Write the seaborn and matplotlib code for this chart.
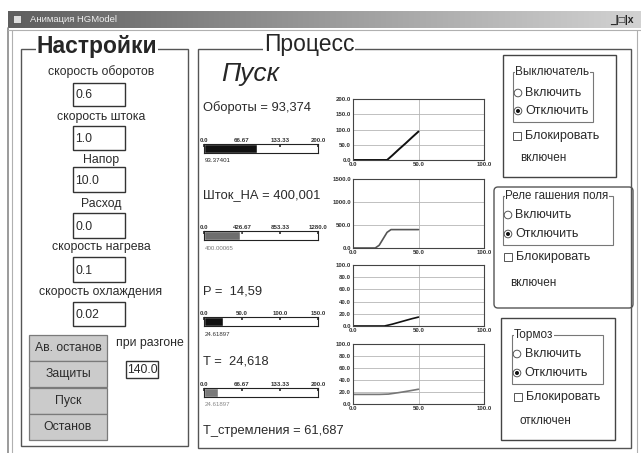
import numpy as np
import pandas as pd
import matplotlib
matplotlib.use("Agg")
import matplotlib.pyplot as plt
from matplotlib.patches import Rectangle, Circle, FancyBboxPatch
import seaborn as sns

sns.set_theme(style="white")
plt.rcParams["font.family"] = ["Liberation Sans", "DejaVu Sans"]

W, H = 641, 453

# тренды: время / значение
t_rpm = [0, 26, 30, 35, 40, 45, 50]
rpm = [0, 0, 15, 35, 54, 74, 93.4]
t_stroke = [0, 17, 20, 23, 26, 29, 50]
stroke = [0, 0, 60, 200, 340, 400, 400]
t_p = [0, 24, 30, 35, 40, 45, 50]
pressure = [0, 0, 3, 6, 9, 12, 14.6]
t_temp = [0, 10, 20, 27, 35, 42, 50]
temp = [16, 16, 16, 16.5, 19, 21.5, 24.6]

# индикаторы
bar_values = [93.37401, 400.00065, 24.61897, 24.61897]
bar_max = [200.0, 1280.0, 150.0, 200.0]
bar_ticks = [["0.0", "66.67", "133.33", "200.0"],
             ["0.0", "426.67", "853.33", "1280.0"],
             ["0.0", "50.0", "100.0", "150.0"],
             ["0.0", "66.67", "133.33", "200.0"]]
bar_texts = ["93.37401", "400.00065", "24.61897", "24.61897"]
readouts = ["Обороты = 93,374", "Шток_НА = 400,001", "P =  14,59", "T =  24,618"]

# настройки
param_names = ["скорость оборотов", "скорость штока", "Напор", "Расход",
               "скорость нагрева", "скорость охлаждения"]
param_values = ["0.6", "1.0", "10.0", "0.0", "0.1", "0.02"]
buttons = ["Ав. останов", "Защиты", "Пуск", "Останов"]

TXT = "#2a2a2a"


def px_axes(fig, x0, y0, x1, y1):
    return fig.add_axes([x0 / W, 1 - y1 / H, (x1 - x0) / W, (y1 - y0) / H])


def rect(ax, x0, y0, x1, y1, fc="none", ec="#555555", lw=0.9, z=1):
    ax.add_patch(Rectangle((x0, y0), x1 - x0, y1 - y0, facecolor=fc,
                           edgecolor=ec, lw=lw, zorder=z))


def group(ax, x0, y0, x1, y1, title, fs=8.5):
    rect(ax, x0, y0, x1, y1, ec="#777777", lw=0.8)
    ax.text(x0 + 2, y0, title, fontsize=fs, va="center", ha="left", color=TXT,
            bbox=dict(facecolor="white", edgecolor="none", pad=0.3), zorder=3)


def radio(ax, x, y, label, on=False, fs=9):
    ax.add_patch(Circle((x, y), 3.8, facecolor="white", edgecolor="#555", lw=0.7, zorder=3))
    if on:
        ax.add_patch(Circle((x, y), 2.0, facecolor="#111", edgecolor="none", zorder=4))
    ax.text(x + 7.5, y, label, fontsize=fs, va="center", color=TXT)


def checkbox(ax, x, y, label, fs=9):
    rect(ax, x, y - 4, x + 8, y + 4, fc="white", ec="#555", lw=0.7, z=3)
    ax.text(x + 12, y, label, fontsize=fs, va="center", color=TXT)


def trend(ax, t, v, ymax, yticks, color, lw):
    df = pd.DataFrame({"t": t, "v": v})
    sns.lineplot(data=df, x="t", y="v", ax=ax, color=color, lw=lw)
    ax.set_xlim(0, 100)
    ax.set_ylim(0, ymax)
    ax.set_xticks([0, 50, 100])
    ax.set_xticklabels(["0.0", "50.0", "100.0"], fontweight="bold")
    ax.set_yticks(yticks)
    ax.set_yticklabels([f"{y:.1f}" for y in yticks], fontweight="bold")
    ax.grid(True, color="#b5b5b5", lw=0.6)
    ax.tick_params(labelsize=4.4, length=0, pad=1.5, colors="#333")
    ax.set_xlabel("")
    ax.set_ylabel("")
    for s in ax.spines.values():
        s.set_color("#444")
        s.set_linewidth(0.8)


def level_bar(ax, value, vmax, ticks, color):
    sns.barplot(x=[value], y=[""], orient="h", color=color, width=1.0,
                saturation=1, ax=ax)
    ax.set_xlim(0, vmax)
    ax.set_ylim(0.5, -0.5)
    ax.xaxis.tick_top()
    ax.set_xticks([float(s) for s in ticks])
    ax.set_xticklabels(ticks, fontweight="bold")
    ax.tick_params(axis="x", labelsize=4.4, length=2, pad=1, direction="in",
                   colors="#333")
    ax.set_yticks([])
    ax.set_xlabel("")
    ax.set_ylabel("")
    ax.set_facecolor("white")
    for s in ax.spines.values():
        s.set_color("#222")
        s.set_linewidth(0.8)


def main():
    fig = plt.figure(figsize=(W / 100, H / 100), dpi=100)
    fig.patch.set_facecolor("white")
    bg = fig.add_axes([0, 0, 1, 1])

    # заголовок окна
    grad = np.linspace(0, 1, 256).reshape(1, -1)
    bg.imshow(grad, extent=(8, 641, 28, 11), aspect="auto",
              cmap=matplotlib.colors.LinearSegmentedColormap.from_list(
                  "tb", ["#5e5e5e", "#9a9a9a", "#d2d2d2"]), zorder=1)
    bg.text(30, 19.5, "Анимация HGModel", fontsize=6.8, color="#eeeeee", va="center")
    rect(bg, 13, 15, 21, 23, fc="#dddddd", ec="#444", lw=0.5, z=2)
    bg.text(622, 19.5, "_|□|x", fontsize=7.5, color="#222", va="center", ha="center",
            fontweight="bold")

    # рамка окна
    bg.plot([8, 8], [28, 453], color="#8a8a8a", lw=1.2)
    bg.plot([12, 12], [30, 453], color="#b0b0b0", lw=0.8)
    bg.plot([8, 641], [30, 30], color="#b0b0b0", lw=0.8)
    bg.plot([637, 637], [30, 453], color="#b0b0b0", lw=0.8)

    # Настройки
    rect(bg, 21, 49, 188, 446, ec="#555", lw=1.0)
    bg.text(37, 46, "Настройки", fontsize=16.5, fontweight="bold", va="center",
            bbox=dict(facecolor="white", edgecolor="none", pad=0.5), zorder=3)
    label_y = [72, 117, 160, 204, 247, 292]
    box_y = [(83, 106), (126, 150), (167, 192), (213, 238), (257, 282), (302, 326)]
    for name, val, ly, (y0, y1) in zip(param_names, param_values, label_y, box_y):
        bg.text(101, ly, name, fontsize=8.8, ha="center", va="center", color=TXT)
        rect(bg, 73, y0, 125, y1, fc="white", ec="#333", lw=1.0)
        bg.text(75, (y0 + y1) / 2 + 1, val, fontsize=8.8, va="center", color=TXT)

    for i, b in enumerate(buttons):
        y0 = 335 + i * 26.3
        rect(bg, 29, y0, 107, y0 + 26, fc="#cbcbcb", ec="#7a7a7a", lw=0.9)
        bg.text(68, y0 + 13, b, fontsize=8.8, ha="center", va="center", color=TXT)
    bg.text(150, 343, "при разгоне", fontsize=8.8, ha="center", va="center", color=TXT)
    rect(bg, 126, 361, 158, 378, fc="white", ec="#333", lw=1.0)
    bg.text(142, 370, "140.0", fontsize=8.8, ha="center", va="center", color=TXT)

    # Процесс
    rect(bg, 198, 49, 631, 448, ec="#555", lw=1.0)
    bg.text(264, 45, "Процесс", fontsize=16.5, va="center",
            bbox=dict(facecolor="white", edgecolor="none", pad=0.5), zorder=3)
    bg.text(221, 74, "Пуск", fontsize=19, style="italic", va="center")

    read_y = [108, 195, 292, 361]
    for s, y in zip(readouts, read_y):
        bg.text(203, y, s, fontsize=9.3, va="center", color=TXT)
    bar_y = [(144, 153), (231, 240), (317, 326), (388, 397)]
    bar_colors = ["#111111", "#6e6e6e", "#111111", "#7a7a7a"]
    text_colors = ["#222", "#777", "#333", "#888"]
    for i in range(4):
        y0, y1 = bar_y[i]
        ax = px_axes(fig, 204, y0, 318, y1)
        level_bar(ax, bar_values[i], bar_max[i], bar_ticks[i], bar_colors[i])
        bg.text(205, y1 + 8, bar_texts[i], fontsize=4.4, va="center",
                color=text_colors[i])
    bg.text(203, 431, "T_стремления = 61,687", fontsize=9.3, va="center", color=TXT)

    # тренды
    ax1 = px_axes(fig, 353, 99, 484, 160)
    trend(ax1, t_rpm, rpm, 200, [0, 50, 100, 150, 200], "#111", 1.4)
    ax2 = px_axes(fig, 353, 179, 484, 248)
    trend(ax2, t_stroke, stroke, 1500, [0, 500, 1000, 1500], "#555", 1.2)
    ax3 = px_axes(fig, 353, 265, 484, 326)
    trend(ax3, t_p, pressure, 100, [0, 20, 40, 60, 80, 100], "#111", 1.2)
    ax4 = px_axes(fig, 353, 344, 484, 404)
    trend(ax4, t_temp, temp, 100, [0, 20, 40, 60, 80, 100], "#777", 1.2)

    # Выключатель
    rect(bg, 503, 55, 616, 177, ec="#444", lw=1.0)
    group(bg, 513, 72, 593, 122, "Выключатель")
    radio(bg, 518, 93, "Включить")
    radio(bg, 518, 111, "Отключить", on=True)
    checkbox(bg, 513, 136, "Блокировать")
    bg.text(520, 158, "включен", fontsize=8.5, va="center", color=TXT)

    # Реле гашения поля
    bg.add_patch(FancyBboxPatch((494, 187), 139, 121,
                                boxstyle="round,pad=0,rounding_size=4",
                                facecolor="none", edgecolor="#555", lw=1.0))
    group(bg, 503, 196, 613, 245, "Реле гашения поля", fs=8.3)
    radio(bg, 508, 215, "Включить")
    radio(bg, 508, 234, "Отключить", on=True)
    checkbox(bg, 504, 257, "Блокировать")
    bg.text(510, 283, "включен", fontsize=8.5, va="center", color=TXT)

    # Тормоз
    rect(bg, 501, 318, 615, 440, ec="#444", lw=1.0)
    group(bg, 512, 335, 603, 384, "Тормоз")
    radio(bg, 517, 354, "Включить")
    radio(bg, 517, 373, "Отключить", on=True)
    checkbox(bg, 514, 397, "Блокировать")
    bg.text(520, 421, "отключен", fontsize=8.5, va="center", color=TXT)

    bg.set_xlim(0, W)
    bg.set_ylim(H, 0)
    bg.axis("off")

    fig.savefig("out.png", dpi=100)


if __name__ == "__main__":
    main()
